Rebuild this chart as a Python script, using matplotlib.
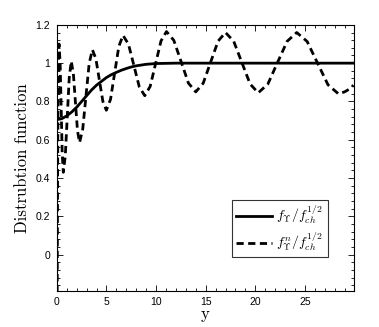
import numpy as np
import matplotlib
matplotlib.use("Agg")
import matplotlib.pyplot as plt
from matplotlib.ticker import MultipleLocator, FixedLocator

plt.rcParams["mathtext.fontset"] = "cm"
plt.rcParams["font.family"] = ["Liberation Sans", "DejaVu Sans"]

# f_Upsilon / f_ch^{1/2}  (solid)
y_smooth = [0.0, 0.5, 1.0, 1.5, 2.0, 2.5, 3.0, 3.5, 4.0, 4.5, 5.0, 5.5, 6.0,
            6.5, 7.0, 7.5, 8.0, 9.0, 10.0, 11.0, 12.0, 14.0, 20.0, 25.0, 29.9]
f_smooth = [0.705, 0.71, 0.725, 0.745, 0.77, 0.80, 0.83, 0.86, 0.885, 0.905,
            0.925, 0.94, 0.952, 0.963, 0.972, 0.98, 0.986, 0.994, 0.998,
            0.999, 1.0, 1.0, 1.0, 1.0, 1.0]

# f^n_Upsilon / f_ch^{1/2}  (dashed)
y_osc = [0.0, 0.04, 0.08, 0.12, 0.17, 0.22,
         0.33, 0.435, 0.54, 0.65,
         0.85, 1.05, 1.25, 1.45,
         1.66, 1.87, 2.08, 2.29,
         2.61, 2.935, 3.26, 3.58,
         3.93, 4.285, 4.64, 4.99,
         5.41, 5.83, 6.25, 6.67,
         7.22, 7.765, 8.31, 8.86,
         9.41, 9.955, 10.5, 11.05,
         11.79, 12.525, 13.26, 14.0,
         14.75, 15.5, 16.25, 17.0,
         17.83, 18.65, 19.48, 20.3,
         21.27, 22.24, 23.21, 24.18,
         25.23, 26.28, 27.33, 28.38,
         29.0, 29.5, 29.9]
f_osc = [-0.5, -0.1, 0.45, 0.85, 1.05, 1.10,
         1.002, 0.765, 0.528, 0.43,
         0.515, 0.72, 0.925, 1.01,
         0.948, 0.798, 0.647, 0.585,
         0.656, 0.828, 0.999, 1.07,
         1.024, 0.912, 0.80, 0.754,
         0.811, 0.95, 1.088, 1.145,
         1.099, 0.988, 0.876, 0.83,
         0.879, 0.998, 1.116, 1.165,
         1.119, 1.008, 0.896, 0.85,
         0.895, 1.005, 1.115, 1.16,
         1.114, 1.003, 0.891, 0.845,
         0.891, 1.003, 1.114, 1.16,
         1.113, 1.0, 0.887, 0.84,
         0.85, 0.865, 0.885]

xticks = [0, 5, 10, 15, 20, 25]
yticks = [0, 0.2, 0.4, 0.6, 0.8, 1.0, 1.2]
yticklabels = ["0", "0.2", "0.4", "0.6", "0.8", "1", "1.2"]

fig = plt.figure(figsize=(3.79, 3.27), dpi=100)
ax = fig.add_axes([0.150, 0.110, 0.784, 0.814])

ax.plot(y_smooth, f_smooth, color="black", linewidth=2.0,
        label=r"$f_\Upsilon/f_{ch}^{1/2}$")
ax.plot(y_osc, f_osc, color="black", linewidth=2.0, dashes=(2.6, 1.6),
        label=r"$f_\Upsilon^n/f_{ch}^{1/2}$")

ax.set_xlim(0, 29.95)
ax.set_ylim(-0.19, 1.2)
ax.xaxis.set_major_locator(FixedLocator(xticks))
ax.xaxis.set_minor_locator(MultipleLocator(1))
ax.set_yticks(yticks)
ax.set_yticklabels(yticklabels)
ax.yaxis.set_minor_locator(MultipleLocator(0.04))

ax.tick_params(which="both", direction="in", top=True, right=True,
               labelsize=7.5, width=0.6)
ax.tick_params(which="major", length=4)
ax.tick_params(which="minor", length=2)
ax.tick_params(axis="y", pad=5)
ax.tick_params(axis="x", pad=4)
for s in ax.spines.values():
    s.set_linewidth(0.8)

ax.set_xlabel("y", fontfamily="cmr10", fontsize=12, labelpad=0)
ax.set_ylabel("Distrubtion function", fontfamily="cmr10", fontsize=12,
              labelpad=4)

leg = ax.legend(loc="lower left", bbox_to_anchor=(0.588, 0.127, 0.325, 0.19),
                mode="expand", fontsize=10, frameon=True, fancybox=False,
                handlelength=2.6, handletextpad=0.3, borderpad=0.3,
                labelspacing=0.3, borderaxespad=0)
leg.get_frame().set_edgecolor("black")
leg.get_frame().set_linewidth(0.8)

fig.savefig("out.png", dpi=100)
